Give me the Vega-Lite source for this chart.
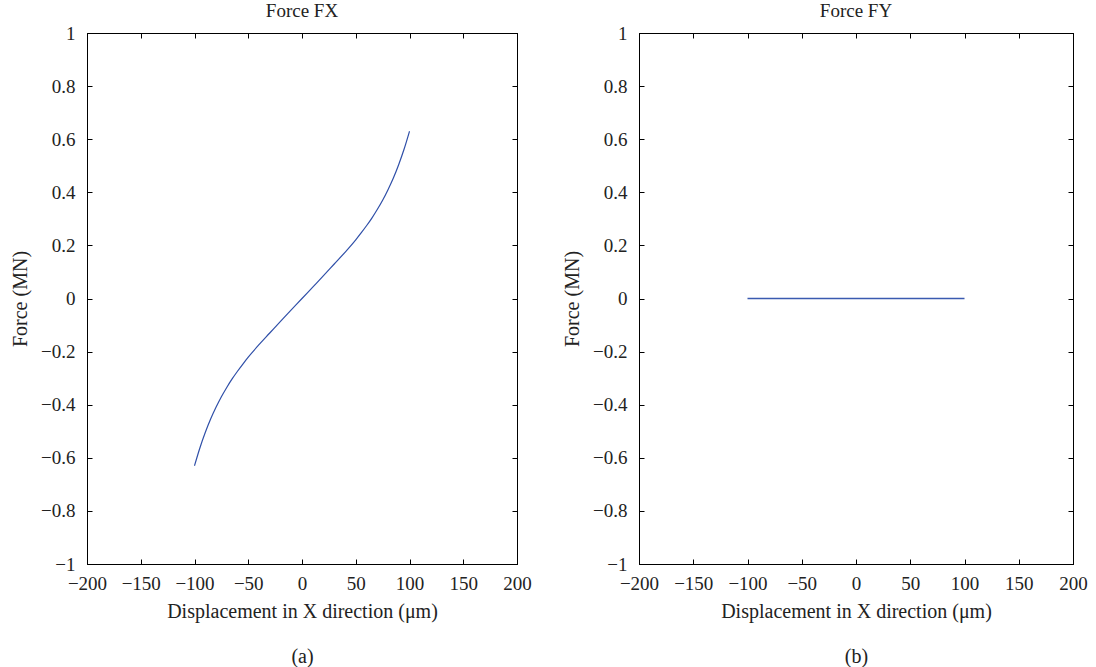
{
  "$schema": "https://vega.github.io/schema/vega-lite/v6.json",
  "background": "white",
  "padding": {"left": 10, "top": 1, "right": 4, "bottom": 0},
  "config": {
    "font": "Liberation Serif",
    "view": {"stroke": "black", "strokeWidth": 1},
    "axis": {
      "grid": false,
      "domain": true,
      "domainColor": "black",
      "tickColor": "black",
      "tickSize": -5,
      "labelFlush": false,
      "labelOverlap": false,
      "labelBound": false,
      "labelFont": "Liberation Serif",
      "labelFontSize": 19,
      "labelColor": "#222",
      "titleFont": "Liberation Serif",
      "titleFontSize": 20,
      "titleFontWeight": "normal",
      "titleColor": "#222"
    },
    "axisX": {"labelPadding": 15},
    "axisY": {"labelPadding": 17},
    "title": {"font": "Liberation Serif", "fontSize": 19, "fontWeight": "normal", "color": "#222"}
  },
  "datasets": {
    "fx": [
      {"x": -100, "y": -0.63},
      {"x": -95, "y": -0.563},
      {"x": -90, "y": -0.505},
      {"x": -85, "y": -0.454},
      {"x": -80, "y": -0.41},
      {"x": -75, "y": -0.37},
      {"x": -70, "y": -0.335},
      {"x": -65, "y": -0.303},
      {"x": -60, "y": -0.274},
      {"x": -55, "y": -0.247},
      {"x": -50, "y": -0.221},
      {"x": -40, "y": -0.174},
      {"x": -30, "y": -0.13},
      {"x": -20, "y": -0.086},
      {"x": -10, "y": -0.043},
      {"x": 0, "y": 0},
      {"x": 10, "y": 0.043},
      {"x": 20, "y": 0.086},
      {"x": 30, "y": 0.13},
      {"x": 40, "y": 0.174},
      {"x": 50, "y": 0.221},
      {"x": 55, "y": 0.247},
      {"x": 60, "y": 0.274},
      {"x": 65, "y": 0.303},
      {"x": 70, "y": 0.335},
      {"x": 75, "y": 0.37},
      {"x": 80, "y": 0.41},
      {"x": 85, "y": 0.454},
      {"x": 90, "y": 0.505},
      {"x": 95, "y": 0.563},
      {"x": 100, "y": 0.63}
    ],
    "fy": [
      {"x": -100, "y": 0},
      {"x": 0, "y": 0},
      {"x": 100, "y": 0}
    ]
  },
  "hconcat": [
    {
      "width": 430,
      "height": 531,
      "title": {"text": "Force FX", "offset": 3},
      "data": {"name": "fx"},
      "layer": [
        {
          "mark": {"type": "line", "color": "#2f4fa8", "strokeWidth": 1.2, "interpolate": "monotone"},
          "encoding": {
            "x": {"field": "x", "type": "quantitative", "scale": {"domain": [-200, 200], "nice": false},
              "axis": {"orient": "bottom", "values": [-200, -150, -100, -50, 0, 50, 100, 150, 200], "title": ["Displacement in X direction (μm)", "(a)"], "titlePadding": 8, "titleLineHeight": 45}},
            "y": {"field": "y", "type": "quantitative", "scale": {"domain": [-1, 1], "nice": false},
              "axis": {"orient": "left", "values": [-1, -0.8, -0.6, -0.4, -0.2, 0, 0.2, 0.4, 0.6, 0.8, 1], "format": ".1~f", "title": "Force (MN)", "titlePadding": 10}}
          }
        },
        {
          "mark": {"type": "line", "opacity": 0},
          "encoding": {
            "x": {"field": "x", "type": "quantitative", "scale": {"domain": [-200, 200], "nice": false},
              "axis": {"orient": "top", "values": [-200, -150, -100, -50, 0, 50, 100, 150, 200], "labels": false, "title": null}},
            "y": {"field": "y", "type": "quantitative", "scale": {"domain": [-1, 1], "nice": false},
              "axis": {"orient": "right", "values": [-1, -0.8, -0.6, -0.4, -0.2, 0, 0.2, 0.4, 0.6, 0.8, 1], "labels": false, "title": null}}
          }
        }
      ],
      "resolve": {"axis": {"x": "independent", "y": "independent"}}
    },
    {
      "width": 434,
      "height": 531,
      "title": {"text": "Force FY", "offset": 3},
      "data": {"name": "fy"},
      "layer": [
        {
          "mark": {"type": "line", "color": "#3a5ab0", "strokeWidth": 1.3},
          "encoding": {
            "x": {"field": "x", "type": "quantitative", "scale": {"domain": [-200, 200], "nice": false},
              "axis": {"orient": "bottom", "values": [-200, -150, -100, -50, 0, 50, 100, 150, 200], "title": ["Displacement in X direction (μm)", "(b)"], "titlePadding": 8, "titleLineHeight": 45}},
            "y": {"field": "y", "type": "quantitative", "scale": {"domain": [-1, 1], "nice": false},
              "axis": {"orient": "left", "values": [-1, -0.8, -0.6, -0.4, -0.2, 0, 0.2, 0.4, 0.6, 0.8, 1], "format": ".1~f", "title": "Force (MN)", "titlePadding": 10}}
          }
        },
        {
          "mark": {"type": "line", "opacity": 0},
          "encoding": {
            "x": {"field": "x", "type": "quantitative", "scale": {"domain": [-200, 200], "nice": false},
              "axis": {"orient": "top", "values": [-200, -150, -100, -50, 0, 50, 100, 150, 200], "labels": false, "title": null}},
            "y": {"field": "y", "type": "quantitative", "scale": {"domain": [-1, 1], "nice": false},
              "axis": {"orient": "right", "values": [-1, -0.8, -0.6, -0.4, -0.2, 0, 0.2, 0.4, 0.6, 0.8, 1], "labels": false, "title": null}}
          }
        }
      ],
      "resolve": {"axis": {"x": "independent", "y": "independent"}}
    }
  ],
  "spacing": 30
}
